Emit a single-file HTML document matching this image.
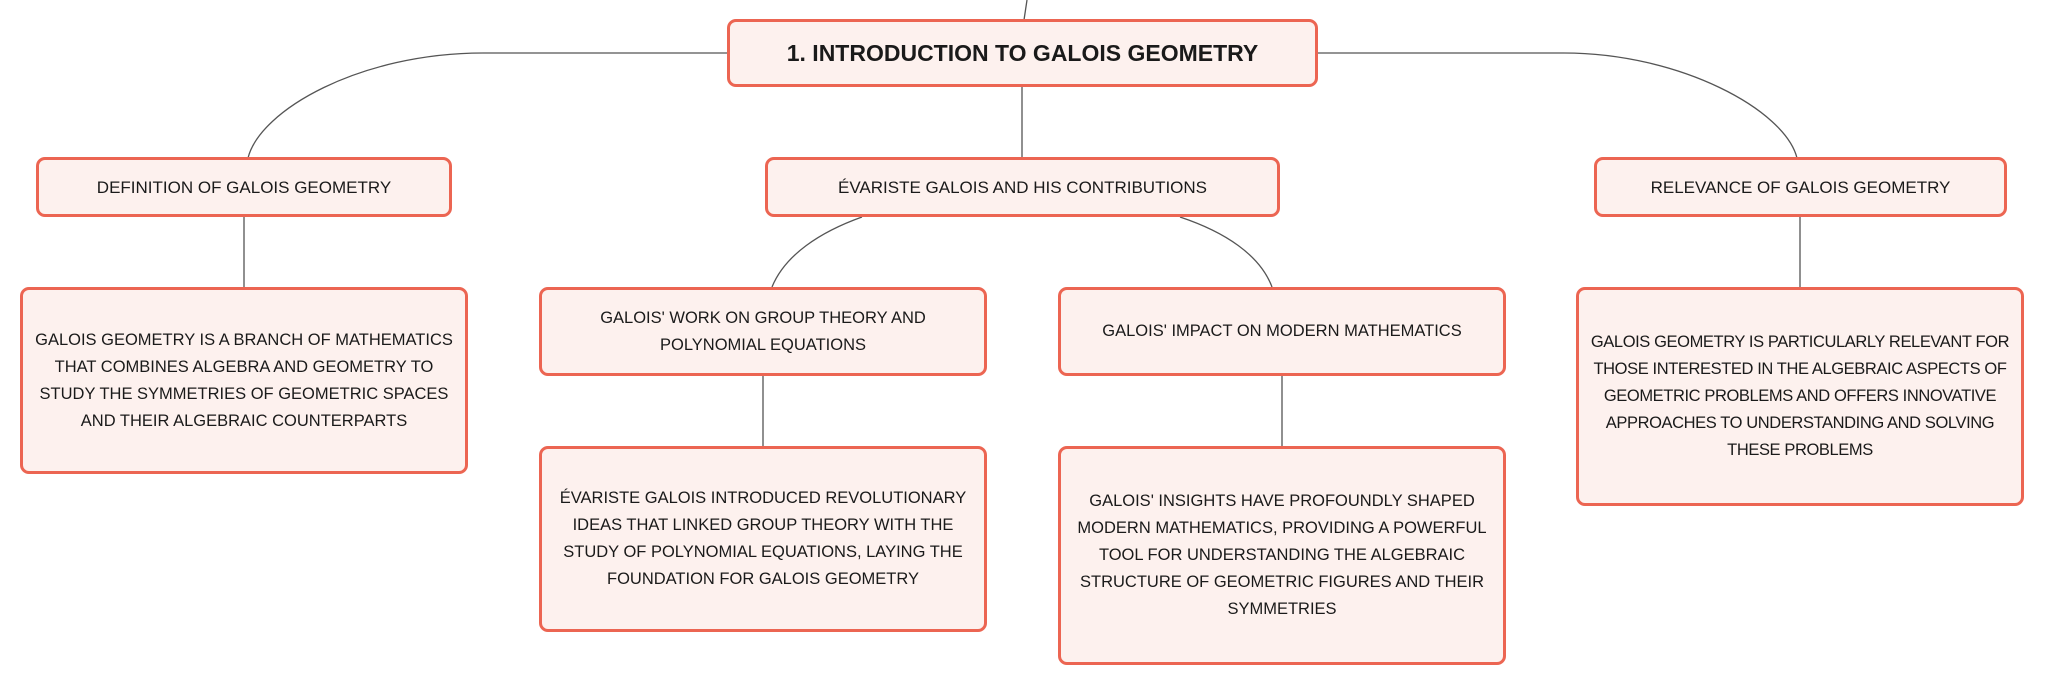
<!DOCTYPE html>
<html><head><meta charset="utf-8"><style>
body{margin:0;width:2046px;height:685px;background:#fff;position:relative;overflow:hidden;font-family:"Liberation Sans",sans-serif;}
.b{position:absolute;box-sizing:border-box;border:3px solid #ec6552;border-radius:9px;background:#fdf1ee;display:flex;align-items:center;justify-content:center;text-align:center;color:#1a1a1a;font-size:17px;line-height:27px;padding:0 8px;}
svg{position:absolute;left:0;top:0;}
</style></head><body>
<svg width="2046" height="685" fill="none" stroke="#555" stroke-width="1.3">
<path d="M1027 0 L1024 20"/>
<path d="M727 53 L483 53 C360 53 260 110 248 158"/>
<path d="M1318 53 L1564 53 C1680 53 1785 110 1797 158"/>
<path d="M1022 87 L1022 158"/>
<path d="M862 217 C820 232 785 255 772 287"/>
<path d="M1180 217 C1225 232 1260 255 1272 287"/>
<path d="M244 217 L244 287"/>
<path d="M763 376 L763 446"/>
<path d="M1282 376 L1282 446"/>
<path d="M1800 217 L1800 287"/>
</svg>
<div class="b" style="left:727px;top:19px;width:591px;height:68px;font-weight:bold;font-size:23px;">1. INTRODUCTION TO GALOIS GEOMETRY</div>
<div class="b" style="left:36px;top:157px;width:416px;height:60px;">DEFINITION OF GALOIS GEOMETRY</div>
<div class="b" style="left:765px;top:157px;width:515px;height:60px;">ÉVARISTE GALOIS AND HIS CONTRIBUTIONS</div>
<div class="b" style="left:1594px;top:157px;width:413px;height:60px;">RELEVANCE OF GALOIS GEOMETRY</div>
<div class="b" style="left:20px;top:287px;width:448px;height:187px;font-size:16.5px;">GALOIS GEOMETRY IS A BRANCH OF MATHEMATICS THAT COMBINES ALGEBRA AND GEOMETRY TO STUDY THE SYMMETRIES OF GEOMETRIC SPACES AND THEIR ALGEBRAIC COUNTERPARTS</div>
<div class="b" style="left:539px;top:287px;width:448px;height:89px;font-size:16.5px;padding:0 40px;">GALOIS' WORK ON GROUP THEORY AND POLYNOMIAL EQUATIONS</div>
<div class="b" style="left:1058px;top:287px;width:448px;height:89px;font-size:16.5px;">GALOIS' IMPACT ON MODERN MATHEMATICS</div>
<div class="b" style="left:539px;top:446px;width:448px;height:186px;font-size:16.5px;">ÉVARISTE GALOIS INTRODUCED REVOLUTIONARY IDEAS THAT LINKED GROUP THEORY WITH THE STUDY OF POLYNOMIAL EQUATIONS, LAYING THE FOUNDATION FOR GALOIS GEOMETRY</div>
<div class="b" style="left:1058px;top:446px;width:448px;height:219px;font-size:16.5px;">GALOIS' INSIGHTS HAVE PROFOUNDLY SHAPED MODERN MATHEMATICS, PROVIDING A POWERFUL TOOL FOR UNDERSTANDING THE ALGEBRAIC STRUCTURE OF GEOMETRIC FIGURES AND THEIR SYMMETRIES</div>
<div class="b" style="left:1576px;top:287px;width:448px;height:219px;font-size:16.5px;padding:0;letter-spacing:-0.4px;">GALOIS GEOMETRY IS PARTICULARLY RELEVANT FOR THOSE INTERESTED IN THE ALGEBRAIC ASPECTS OF GEOMETRIC PROBLEMS AND OFFERS INNOVATIVE APPROACHES TO UNDERSTANDING AND SOLVING THESE PROBLEMS</div>
</body></html>
